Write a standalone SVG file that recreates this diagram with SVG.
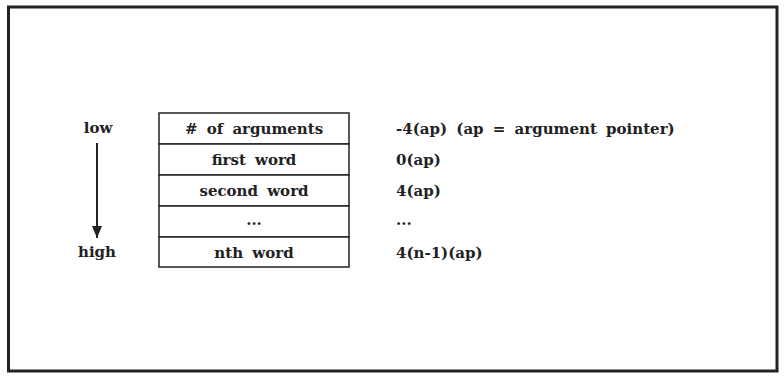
<svg xmlns="http://www.w3.org/2000/svg" width="784" height="376" viewBox="0 0 784 376">
<defs>
<style>
text{font-family:"DejaVu Serif","Liberation Serif",serif;font-weight:bold;font-size:15px;fill:#222;word-spacing:4px}
.c{text-anchor:middle}
.cell{fill:#fff;stroke:#222;stroke-width:1.5}
</style>
<marker id="ah" markerWidth="12" markerHeight="10" refX="12" refY="5" orient="auto" markerUnits="userSpaceOnUse">
<path d="M0,0 L12,5 L0,10 Z" fill="#222"/>
</marker>
</defs>
<rect x="8.5" y="7" width="768.5" height="364" fill="#fff" stroke="#222" stroke-width="3"/>
<g id="labels">
<text class="c" x="98" y="133">low</text>
<text class="c" x="97" y="257">high</text>
</g>
<g id="connectors">
<line x1="97" y1="143" x2="97" y2="238" stroke="#222" stroke-width="2" marker-end="url(#ah)"/>
</g>
<g id="row1"><rect class="cell" x="159" y="113" width="190" height="31"/><text class="c" x="254" y="134"># of arguments</text></g>
<g id="row2"><rect class="cell" x="159" y="144" width="190" height="31"/><text class="c" x="254" y="165">first word</text></g>
<g id="row3"><rect class="cell" x="159" y="175" width="190" height="31"/><text class="c" x="254" y="196">second word</text></g>
<g id="row4"><rect class="cell" x="159" y="206" width="190" height="31"/><text class="c" x="254" y="225">...</text></g>
<g id="row5"><rect class="cell" x="159" y="237" width="190" height="30"/><text class="c" x="254" y="258">nth word</text></g>
<g id="offsets">
<text x="396" y="134">-4(ap) (ap = argument pointer)</text>
<text x="396" y="165">0(ap)</text>
<text x="396" y="196">4(ap)</text>
<text x="396" y="225">...</text>
<text x="396" y="258">4(n-1)(ap)</text>
</g>
</svg>
